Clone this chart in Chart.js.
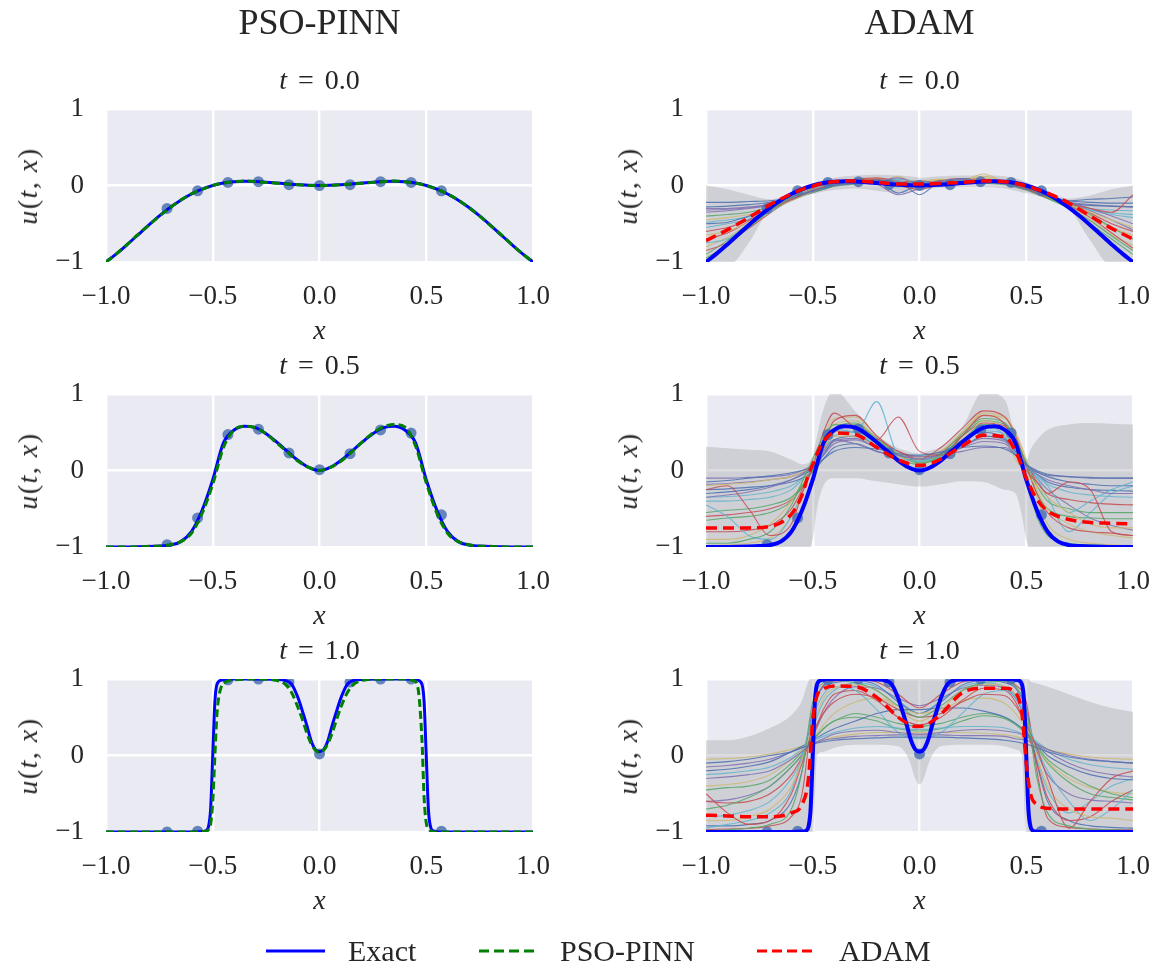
<!DOCTYPE html>
<html>
<head>
<meta charset="utf-8">
<script src="https://cdn.jsdelivr.net/npm/chart.js@4.4.1/dist/chart.umd.min.js"></script>
<style>
  body { margin: 0; background: #fff; width: 1159px; height: 969px; position: relative; overflow: hidden;
         font-family: "Liberation Serif", serif; color: #262626; }
  canvas { position: absolute; }
  .t { position: absolute; transform: translate(-50%, -50%); white-space: nowrap; line-height: 1; }
  .rot { transform: translate(-50%, -50%) rotate(-90deg); }
  .leg { position: absolute; top: 951px; transform: translateY(-50%); line-height: 1; font-size: 30px; white-space: nowrap; }
  svg.h { position: absolute; }
</style>
</head>
<body>
<script>
// x grids
const X_FINE = [-1,-0.95,-0.9,-0.85,-0.8,-0.75,-0.7,-0.65,-0.6,-0.55,-0.5,-0.45,-0.4,-0.35,-0.3,-0.25,-0.2,-0.15,-0.1,-0.05,0,
  0.05,0.1,0.15,0.2,0.25,0.3,0.35,0.4,0.45,0.5,0.55,0.6,0.65,0.7,0.75,0.8,0.85,0.9,0.95,1];
const X_T1 = [-1,-0.9,-0.8,-0.7,-0.6,-0.55,-0.53,-0.52,-0.51,-0.5,-0.49,-0.48,-0.46,-0.44,-0.4,-0.3,-0.2,-0.16,-0.13,-0.1,-0.08,-0.06,-0.04,-0.02,0,
  0.02,0.04,0.06,0.08,0.1,0.13,0.16,0.2,0.3,0.4,0.44,0.46,0.48,0.49,0.5,0.51,0.52,0.53,0.55,0.6,0.7,0.8,0.9,1];
const X_MEAN = [-1,-0.9,-0.8,-0.7,-0.6,-0.55,-0.52,-0.5,-0.48,-0.45,-0.4,-0.3,-0.2,-0.1,-0.05,-0.02,0,
  0.02,0.05,0.1,0.2,0.3,0.4,0.45,0.48,0.5,0.52,0.55,0.6,0.7,0.8,0.9,1];
const X_RUNS = [-1,-0.9,-0.8,-0.7,-0.6,-0.55,-0.5,-0.45,-0.4,-0.3,-0.2,-0.1,0,0.1,0.2,0.3,0.4,0.45,0.5,0.55,0.6,0.7,0.8,0.9,1];
const DOT_X = [-0.714,-0.571,-0.429,-0.286,-0.143,0,0.143,0.286,0.429,0.571];

const TIMES = ['0.0', '0.5', '1.0'];

// exact solution
const EXACT_T0 = [-1.000,-0.891,-0.770,-0.644,-0.518,-0.398,-0.288,-0.192,-0.111,-0.047,0.000,
  0.032,0.049,0.056,0.053,0.044,0.032,0.020,0.010,0.002,0.000,0.002,0.010,0.020,0.032,0.044,0.053,0.056,0.049,0.032,
  0.000,-0.047,-0.111,-0.192,-0.288,-0.398,-0.518,-0.644,-0.770,-0.891,-1.000];
const EXACT_T05 = [-1.000,-1.000,-0.999,-0.998,-0.995,-0.988,-0.975,-0.930,-0.800,-0.520,-0.120,
  0.360,0.530,0.580,0.560,0.480,0.370,0.250,0.130,0.040,0.000,0.040,0.130,0.250,0.370,0.480,0.560,0.580,0.530,0.360,
  -0.120,-0.520,-0.800,-0.930,-0.975,-0.988,-0.995,-0.998,-0.999,-1.000,-1.000];
const EXACT_T1 = [-1,-1,-1,-1,-1,-0.995,-0.98,-0.93,-0.7,0.0,0.7,0.93,0.985,0.995,1,1,0.995,0.98,0.93,0.75,0.58,0.4,0.2,0.08,
  0.05,
  0.08,0.2,0.4,0.58,0.75,0.93,0.98,0.995,1,1,0.995,0.985,0.93,0.7,0.0,-0.7,-0.93,-0.98,-0.995,-1,-1,-1,-1,-1];

// PSO-PINN prediction
const PSO_T0 = [-1.00,-0.89,-0.77,-0.64,-0.52,-0.40,-0.29,-0.19,-0.11,-0.05,0.00,
  0.03,0.05,0.06,0.05,0.04,0.03,0.02,0.01,0.00,0.00,0.00,0.01,0.02,0.03,0.04,0.05,0.06,0.05,0.03,
  0.00,-0.05,-0.11,-0.19,-0.29,-0.40,-0.52,-0.64,-0.77,-0.89,-1.00];
const PSO_T05 = [-1.00,-1.00,-1.00,-1.00,-0.99,-0.99,-0.97,-0.93,-0.82,-0.56,-0.18,
  0.30,0.53,0.58,0.56,0.48,0.36,0.24,0.12,0.04,0.00,0.04,0.12,0.24,0.37,0.49,0.57,0.60,0.57,0.32,
  -0.16,-0.56,-0.82,-0.93,-0.97,-0.99,-0.99,-1.00,-1.00,-1.00,-1.00];
const PSO_T1 = [-1,-1,-1,-1,-1,-0.995,-0.99,-0.97,-0.9,-0.6,0.0,0.55,0.9,0.96,0.99,1,0.98,0.93,0.82,0.62,0.47,0.3,0.16,0.07,
  0.04,
  0.07,0.16,0.3,0.47,0.63,0.82,0.93,0.98,1,1,0.98,0.9,0.2,-0.55,-0.88,-0.96,-0.985,-0.995,-1,-1,-1,-1,-1,-1];

// training points
const DOT_T0 = [-0.30,-0.07,0.04,0.05,0.01,0.00,0.01,0.05,0.04,-0.07];
const DOT_T05 = [-0.97,-0.62,0.47,0.54,0.23,0.01,0.22,0.53,0.49,-0.58];
const DOT_T1 = [-1.00,-0.99,0.99,1.00,0.96,0.02,0.96,1.00,1.00,-0.99];

// ADAM ensemble mean and spread band
const MEAN_T0 = [-0.72,-0.58,-0.42,-0.25,-0.11,-0.05,-0.02,-0.01,0.01,0.03,0.05,0.06,0.04,0.02,0.02,0.02,0.02,
  0.02,0.02,0.03,0.04,0.06,0.05,0.03,0.01,-0.01,-0.02,-0.05,-0.10,-0.23,-0.40,-0.56,-0.70];
const MEAN_T05 = [-0.75,-0.75,-0.75,-0.73,-0.57,-0.32,-0.05,0.08,0.22,0.38,0.49,0.47,0.30,0.14,0.09,0.07,0.07,
  0.07,0.09,0.15,0.32,0.46,0.44,0.25,0.05,-0.10,-0.22,-0.38,-0.53,-0.64,-0.68,-0.69,-0.70];
const MEAN_T1 = [-0.78,-0.79,-0.80,-0.80,-0.75,-0.64,-0.30,0.45,0.78,0.87,0.91,0.90,0.76,0.50,0.41,0.38,0.38,
  0.39,0.43,0.54,0.82,0.88,0.88,0.82,0.55,-0.10,-0.50,-0.64,-0.69,-0.70,-0.70,-0.70,-0.70];

const BAND_HI_T0 = [0.00,-0.05,-0.12,-0.18,-0.10,-0.04,-0.01,0.01,0.03,0.06,0.10,0.13,0.14,0.13,0.12,0.11,0.10,
  0.10,0.11,0.12,0.13,0.13,0.12,0.09,0.07,0.05,0.02,-0.02,-0.08,-0.17,-0.13,-0.05,0.00];
const BAND_LO_T0 = [-1.05,-1.05,-0.75,-0.30,-0.18,-0.14,-0.12,-0.11,-0.10,-0.08,-0.06,-0.04,-0.07,-0.10,-0.09,-0.07,-0.06,
  -0.05,-0.04,-0.03,-0.02,-0.02,-0.04,-0.07,-0.09,-0.10,-0.11,-0.13,-0.17,-0.30,-0.72,-1.05,-1.05];
const BAND_HI_T05 = [0.31,0.29,0.27,0.25,0.14,0.08,0.10,0.20,0.45,0.80,1.05,0.77,0.47,0.29,0.25,0.23,0.23,
  0.24,0.26,0.31,0.57,1.03,0.92,0.42,0.18,0.12,0.27,0.40,0.53,0.60,0.62,0.61,0.60];
const BAND_LO_T05 = [-1.05,-1.05,-1.05,-1.05,-1.05,-1.05,-1.05,-0.90,-0.50,-0.20,-0.10,-0.10,-0.14,-0.18,-0.20,-0.21,-0.21,
  -0.21,-0.20,-0.18,-0.14,-0.15,-0.25,-0.30,-0.60,-0.90,-1.05,-1.05,-1.05,-1.05,-1.05,-1.05,-1.05];
const BAND_HI_T1 = [0.20,0.20,0.25,0.36,0.53,0.72,0.97,1.03,1.03,1.03,1.03,1.03,1.03,1.03,1.03,1.03,1.03,
  1.03,1.03,1.03,1.03,1.03,1.03,1.03,1.03,1.03,0.97,0.94,0.90,0.80,0.70,0.62,0.57];
const BAND_LO_T1 = [-1.05,-1.05,-1.05,-1.05,-1.05,-1.05,-1.05,-1.05,0.00,0.05,0.10,0.14,0.14,0.12,-0.05,-0.30,-0.38,
  -0.30,-0.05,0.12,0.14,0.14,0.12,0.08,0.00,-1.05,-1.05,-1.05,-1.05,-1.05,-1.05,-1.05,-1.05];

// individual ADAM runs (on X_RUNS)
const RUNS_T0 = [
  [-0.28,-0.27,-0.25,-0.22,-0.15,-0.11,-0.07,-0.03,0.01,0.05,0.07,0.04,0.03,0.04,0.06,0.06,0.04,0.01,-0.03,-0.08,-0.13,-0.20,-0.18,-0.17,-0.15],
  [-0.95,-0.78,-0.55,-0.33,-0.15,-0.08,-0.02,0.02,0.05,0.07,0.04,0.02,0.01,0.03,0.05,0.06,0.05,0.02,-0.02,-0.08,-0.15,-0.30,-0.50,-0.70,-0.90],
  [-0.60,-0.55,-0.45,-0.32,-0.18,-0.12,-0.06,-0.02,0.02,0.06,0.08,0.00,-0.05,0.02,0.05,0.07,0.04,0.00,-0.04,-0.10,-0.16,-0.24,-0.30,-0.35,-0.12],
  [-0.35,-0.33,-0.30,-0.26,-0.18,-0.12,-0.08,-0.03,0.00,0.03,0.05,0.10,0.02,0.06,0.08,0.05,0.03,0.00,-0.04,-0.09,-0.14,-0.22,-0.30,-0.40,-0.50],
  [-0.45,-0.42,-0.38,-0.30,-0.20,-0.14,-0.08,-0.03,0.02,0.04,0.03,0.12,0.00,0.08,0.04,0.10,0.03,0.01,-0.03,-0.10,-0.16,-0.25,-0.35,-0.45,-0.55],
  [-0.75,-0.70,-0.52,-0.35,-0.17,-0.10,-0.05,0.00,0.04,0.07,0.05,-0.02,0.03,0.04,0.06,0.07,0.05,0.02,-0.02,-0.08,-0.14,-0.24,-0.32,-0.38,-0.42],
  [-0.50,-0.48,-0.40,-0.30,-0.19,-0.13,-0.08,-0.04,0.00,0.03,0.06,-0.10,0.02,0.05,0.09,0.05,0.02,-0.01,-0.05,-0.10,-0.16,-0.23,-0.26,-0.27,-0.28],
  [-0.40,-0.38,-0.35,-0.28,-0.19,-0.13,-0.09,-0.05,-0.01,0.02,0.07,0.03,0.05,0.02,0.04,0.03,0.01,-0.02,-0.06,-0.11,-0.17,-0.25,-0.38,-0.55,-0.70],
  [-0.85,-0.75,-0.56,-0.36,-0.17,-0.10,-0.04,0.01,0.04,0.06,0.05,0.02,0.02,0.06,0.04,0.05,0.04,0.01,-0.03,-0.09,-0.15,-0.26,-0.42,-0.62,-0.82],
  [-0.30,-0.30,-0.28,-0.25,-0.18,-0.13,-0.09,-0.05,-0.01,0.03,0.05,0.02,0.06,0.03,0.05,0.04,0.02,-0.02,-0.06,-0.11,-0.16,-0.22,-0.25,-0.27,-0.28],
  [-0.65,-0.60,-0.48,-0.34,-0.19,-0.12,-0.06,-0.02,0.03,0.05,0.06,0.02,0.00,0.05,0.06,0.12,0.05,0.02,-0.02,-0.07,-0.14,-0.24,-0.40,-0.55,-0.65],
  [-0.55,-0.50,-0.44,-0.33,-0.20,-0.14,-0.09,-0.04,0.00,0.04,0.04,0.06,-0.03,0.04,0.07,0.06,0.03,0.00,-0.04,-0.09,-0.15,-0.23,-0.30,-0.32,-0.33],
  [-0.22,-0.22,-0.21,-0.20,-0.16,-0.12,-0.08,-0.04,0.00,0.03,0.04,0.05,-0.12,0.05,0.06,0.05,0.03,0.00,-0.04,-0.09,-0.14,-0.20,-0.22,-0.23,-0.23],
  [-0.90,-0.72,-0.50,-0.30,-0.16,-0.10,-0.05,0.00,0.04,0.06,0.04,0.03,0.03,0.06,0.06,0.04,0.03,0.00,-0.04,-0.10,-0.17,-0.30,-0.46,-0.66,-0.85],
  [-0.70,-0.62,-0.47,-0.32,-0.18,-0.11,-0.06,-0.01,0.03,0.08,0.10,0.06,0.04,0.07,0.09,0.08,0.05,0.02,-0.02,-0.07,-0.13,-0.22,-0.36,-0.50,-0.60],
  [-0.32,-0.31,-0.29,-0.25,-0.17,-0.12,-0.07,-0.02,0.02,0.06,0.02,-0.12,-0.04,0.03,0.05,0.06,0.04,0.01,-0.03,-0.08,-0.14,-0.23,-0.33,-0.45,-0.58],
  [-0.80,-0.68,-0.50,-0.33,-0.17,-0.10,-0.05,0.00,0.05,0.08,0.09,0.05,0.06,0.08,0.07,0.15,0.04,0.01,-0.03,-0.09,-0.16,-0.28,-0.45,-0.65,-0.78],
  [-0.48,-0.45,-0.41,-0.31,-0.19,-0.13,-0.08,-0.03,0.01,0.04,0.06,0.08,0.05,0.02,0.04,0.05,0.03,0.00,-0.04,-0.09,-0.15,-0.24,-0.32,-0.36,-0.38]
];
const RUNS_T05 = [
  [-0.15,-0.13,-0.10,-0.07,-0.03,0.00,0.05,0.15,0.25,0.30,0.28,0.22,0.20,0.24,0.30,0.32,0.28,0.20,0.08,0.00,-0.05,-0.08,-0.10,-0.10,-0.10],
  [-0.95,-0.95,-0.90,-0.80,-0.45,-0.15,0.15,0.45,0.60,0.55,0.35,0.15,0.08,0.20,0.40,0.60,0.55,0.35,-0.10,-0.60,-0.85,-0.95,-0.97,-0.98,-0.98],
  [-0.25,-0.20,-0.50,-0.85,-0.70,-0.30,0.05,0.50,0.75,0.55,0.40,0.70,0.25,0.20,0.45,0.72,0.60,0.30,0.00,-0.15,-0.30,-0.15,-0.25,-0.80,-0.85],
  [-0.35,-0.32,-0.28,-0.22,-0.12,-0.05,0.05,0.20,0.35,0.40,0.30,0.20,0.15,0.20,0.30,0.38,0.35,0.20,0.05,-0.05,-0.12,-0.20,-0.25,-0.30,-0.30],
  [-0.20,-0.18,-0.16,-0.12,-0.08,-0.02,0.08,0.30,0.45,0.45,0.30,0.18,0.15,0.20,0.35,0.65,0.50,0.15,-0.05,-0.20,-0.35,-0.55,-0.70,-0.75,-0.75],
  [-0.45,-0.60,-0.85,-0.90,-0.60,-0.30,0.05,0.40,0.55,0.50,0.90,0.20,0.12,0.18,0.38,0.60,0.45,0.22,0.05,-0.05,-0.20,-0.55,-0.40,-0.25,-0.15],
  [-0.30,-0.28,-0.25,-0.20,-0.12,-0.06,0.02,0.20,0.40,0.45,0.32,0.20,0.15,0.22,0.40,0.50,0.42,0.25,0.08,-0.02,-0.08,-0.15,-0.18,-0.20,-0.20],
  [-0.55,-0.52,-0.50,-0.45,-0.35,-0.20,0.00,0.30,0.50,0.60,0.40,0.20,0.10,0.18,0.45,0.65,0.60,0.40,0.10,-0.20,-0.40,-0.50,-0.55,-0.55,-0.55],
  [-0.80,-0.80,-0.78,-0.72,-0.50,-0.25,0.05,0.35,0.65,0.72,0.45,0.25,0.15,0.30,0.55,0.78,0.70,0.45,0.05,-0.30,-0.55,-0.75,-0.80,-0.82,-0.85],
  [-0.10,-0.10,-0.09,-0.08,-0.05,0.00,0.08,0.25,0.40,0.35,0.25,0.20,0.18,0.20,0.25,0.30,0.30,0.20,0.06,-0.02,-0.06,-0.08,-0.09,-0.10,-0.10],
  [-0.90,-0.90,-0.85,-0.70,-0.40,-0.15,0.10,0.40,0.60,0.65,0.40,0.22,0.18,0.25,0.50,0.75,0.70,0.50,0.15,-0.25,-0.50,-0.70,-0.80,-0.85,-0.88],
  [-0.40,-0.40,-0.38,-0.35,-0.25,-0.12,0.02,0.25,0.45,0.50,0.35,0.18,0.12,0.20,0.35,0.55,0.55,0.35,0.10,-0.10,-0.35,-0.80,-0.55,-0.30,-0.20],
  [-0.25,-0.24,-0.22,-0.20,-0.15,-0.10,-0.02,0.15,0.30,0.35,0.25,0.18,0.14,0.20,0.30,0.45,0.40,0.25,0.08,-0.05,-0.15,-0.22,-0.25,-0.26,-0.27],
  [-0.65,-0.62,-0.60,-0.55,-0.40,-0.20,0.02,0.35,0.55,0.62,0.42,0.22,0.12,0.22,0.48,0.68,0.62,0.42,0.08,-0.30,-0.50,-0.60,-0.62,-0.63,-0.63],
  [-0.60,-0.58,-0.55,-0.50,-0.38,-0.22,0.00,0.28,0.50,0.58,0.42,0.25,0.18,0.25,0.45,0.62,0.58,0.40,0.10,-0.15,-0.30,-0.38,-0.42,-0.44,-0.45],
  [-0.18,-0.17,-0.15,-0.12,-0.08,-0.03,0.05,0.22,0.38,0.42,0.30,0.22,0.18,0.22,0.32,0.42,0.38,0.22,0.05,-0.10,-0.25,-0.45,-0.62,-0.72,-0.78],
  [-0.98,-0.97,-0.95,-0.88,-0.60,-0.25,0.10,0.45,0.68,0.70,0.45,0.20,0.10,0.22,0.50,0.72,0.68,0.48,0.10,-0.35,-0.70,-0.90,-0.95,-0.97,-0.98],
  [-0.35,-0.34,-0.32,-0.28,-0.20,-0.10,0.05,0.30,0.52,0.50,0.32,0.22,0.20,0.24,0.36,0.52,0.48,0.30,0.06,-0.08,-0.18,-0.28,-0.32,-0.34,-0.35]
];
const RUNS_T1 = [
  [-0.10,-0.08,-0.05,0.00,0.05,0.10,0.15,0.18,0.20,0.22,0.23,0.24,0.24,0.24,0.23,0.22,0.20,0.18,0.15,0.10,0.05,-0.02,-0.06,-0.08,-0.10],
  [-0.98,-0.97,-0.95,-0.90,-0.70,-0.20,0.70,0.95,0.98,0.95,0.85,0.65,0.50,0.65,0.85,0.95,0.97,0.90,0.60,-0.30,-0.75,-0.92,-0.96,-0.97,-0.98],
  [-0.50,-0.75,-0.90,-0.85,-0.50,-0.10,0.30,0.55,0.70,0.80,0.75,0.60,0.50,0.55,0.70,0.80,0.78,0.65,0.40,0.10,-0.30,-0.95,-0.60,-0.30,-0.20],
  [-0.30,-0.28,-0.25,-0.20,-0.05,0.05,0.15,0.22,0.28,0.32,0.33,0.30,0.28,0.30,0.33,0.34,0.32,0.30,0.25,0.15,0.05,-0.10,-0.20,-0.25,-0.28],
  [-0.85,-0.85,-0.80,-0.70,-0.40,-0.05,0.40,0.75,0.88,0.92,0.85,0.60,0.45,0.60,0.85,0.93,0.90,0.80,0.50,0.00,-0.40,-0.70,-0.80,-0.82,-0.85],
  [-0.95,-0.90,-0.85,-0.75,-0.45,0.00,0.50,0.80,0.90,0.85,0.60,0.30,0.22,0.30,0.55,0.80,0.85,0.75,0.50,0.10,-0.20,-0.60,-0.85,-0.70,-0.45],
  [-0.20,-0.18,-0.14,-0.08,0.05,0.12,0.20,0.28,0.35,0.45,0.55,0.60,0.60,0.62,0.62,0.58,0.50,0.42,0.30,0.15,0.00,-0.15,-0.25,-0.30,-0.32],
  [-0.70,-0.65,-0.55,-0.40,-0.15,0.00,0.20,0.35,0.45,0.55,0.50,0.42,0.38,0.42,0.50,0.55,0.50,0.42,0.30,0.12,-0.05,-0.25,-0.40,-0.50,-0.55],
  [-0.60,-0.62,-0.60,-0.50,-0.25,-0.02,0.25,0.60,0.80,0.85,0.72,0.50,0.40,0.50,0.72,0.88,0.85,0.70,0.35,-0.10,-0.55,-0.85,-0.80,-0.60,-0.45],
  [-0.15,-0.13,-0.10,-0.05,0.05,0.10,0.15,0.20,0.22,0.25,0.26,0.27,0.27,0.27,0.26,0.26,0.25,0.22,0.20,0.15,0.08,0.00,-0.05,-0.08,-0.10],
  [-0.40,-0.38,-0.34,-0.25,-0.05,0.08,0.22,0.40,0.55,0.70,0.75,0.65,0.55,0.60,0.72,0.75,0.68,0.55,0.35,0.12,-0.08,-0.30,-0.42,-0.48,-0.50],
  [-0.25,-0.23,-0.20,-0.15,-0.02,0.08,0.18,0.25,0.30,0.36,0.38,0.36,0.34,0.36,0.38,0.38,0.36,0.32,0.26,0.18,0.08,-0.05,-0.12,-0.16,-0.18],
  [-0.92,-0.92,-0.90,-0.85,-0.60,-0.20,0.60,0.90,0.95,0.98,0.92,0.70,0.55,0.70,0.92,0.98,0.95,0.88,0.60,-0.10,-0.60,-0.85,-0.92,-0.94,-0.95],
  [-0.45,-0.42,-0.40,-0.32,-0.10,0.05,0.20,0.35,0.45,0.50,0.45,0.35,0.32,0.35,0.45,0.52,0.48,0.40,0.28,0.10,-0.10,-0.35,-0.50,-0.55,-0.58],
  [-0.97,-0.96,-0.95,-0.92,-0.80,-0.50,0.55,0.92,0.97,0.99,0.96,0.80,0.62,0.80,0.96,0.99,0.97,0.92,0.70,-0.20,-0.82,-0.94,-0.96,-0.97,-0.97],
  [-0.60,-0.58,-0.52,-0.40,-0.15,0.02,0.25,0.55,0.75,0.90,0.88,0.75,0.65,0.75,0.88,0.92,0.88,0.75,0.45,0.05,-0.25,-0.50,-0.58,-0.60,-0.62],
  [-0.05,-0.04,-0.02,0.02,0.08,0.12,0.16,0.20,0.24,0.28,0.30,0.30,0.30,0.30,0.30,0.29,0.27,0.25,0.20,0.14,0.08,0.02,-0.02,-0.04,-0.05],
  [-0.80,-0.78,-0.72,-0.60,-0.30,-0.05,0.35,0.70,0.85,0.95,0.90,0.72,0.55,0.72,0.90,0.95,0.90,0.78,0.45,-0.05,-0.45,-0.75,-0.60,-0.40,-0.30]
];

const ROWS = [
  { x: X_FINE, exact: EXACT_T0, pso: PSO_T0, dots: DOT_T0, mean: MEAN_T0, hi: BAND_HI_T0, lo: BAND_LO_T0, runs: RUNS_T0 },
  { x: X_FINE, exact: EXACT_T05, pso: PSO_T05, dots: DOT_T05, mean: MEAN_T05, hi: BAND_HI_T05, lo: BAND_LO_T05, runs: RUNS_T05 },
  { x: X_T1, exact: EXACT_T1, pso: PSO_T1, dots: DOT_T1, mean: MEAN_T1, hi: BAND_HI_T1, lo: BAND_LO_T1, runs: RUNS_T1 }
];

// layout
const COL_LEFT = [106, 706];
const ROW_TOP = [109, 394, 679];
const PLOT_W = 427, PLOT_H = 153;
const PAD_L = 80, PAD_R = 26, PAD_T = 22, PAD_B = 56;
const FONT = '"Liberation Serif", serif';
const INK = '#262626';
const PAL = ['#4C72B0', '#55A868', '#C44E52', '#8172B2', '#CCB974', '#64B5CD'];

const pts = (xs, ys) => xs.map((x, i) => ({ x: x, y: ys[i] }));
const fmt = d => v => (v < 0 ? '\u2212' : '') + Math.abs(v).toFixed(d);

const bgPlugin = {
  id: 'bg',
  beforeDraw(chart) {
    const a = chart.chartArea, ctx = chart.ctx;
    ctx.save();
    ctx.fillStyle = '#EAEAF2';
    ctx.fillRect(a.left, a.top, a.right - a.left, a.bottom - a.top);
    ctx.restore();
  }
};

function line(xs, ys, color, width, dash, order) {
  return {
    data: pts(xs, ys), borderColor: color, borderWidth: width, borderDash: dash,
    pointRadius: 0, cubicInterpolationMode: 'monotone', fill: false, order: order
  };
}

function dots(ys) {
  return {
    data: pts(DOT_X, ys), showLine: false, pointRadius: 5.5, pointBorderWidth: 0,
    pointBackgroundColor: 'rgba(76,114,176,0.85)', order: 2
  };
}

function axis(step, digits, pad, fit) {
  return {
    type: 'linear', min: -1, max: 1,
    afterFit: fit,
    grid: { color: '#FFFFFF', lineWidth: 2.5, drawTicks: false },
    border: { display: false },
    ticks: { stepSize: step, padding: pad, color: INK, font: { family: FONT, size: 27 },
             callback: fmt(digits), maxRotation: 0, autoSkip: false }
  };
}

function panel(col, row, datasets) {
  const cv = document.createElement('canvas');
  cv.width = PAD_L + PLOT_W + PAD_R;
  cv.height = PAD_T + PLOT_H + PAD_B;
  cv.style.left = (COL_LEFT[col] - PAD_L) + 'px';
  cv.style.top = (ROW_TOP[row] - PAD_T) + 'px';
  document.body.appendChild(cv);
  new Chart(cv, {
    type: 'line',
    data: { datasets: datasets },
    plugins: [bgPlugin],
    options: {
      responsive: false, animation: false, events: [],
      layout: { padding: { left: 0, right: PAD_R, top: PAD_T, bottom: 0 } },
      plugins: { legend: { display: false }, tooltip: { enabled: false } },
      scales: {
        // fixed axis sizes, and no extra room for the end labels
        x: axis(0.5, 1, 19, s => { s.height = PAD_B; s.paddingLeft = 0; s.paddingRight = 0; }),
        y: axis(1, 0, 22, s => { s.width = PAD_L; s.paddingTop = 0; s.paddingBottom = 0; })
      }
    }
  });
}

function text(html, cx, cy, size, cls, extra) {
  const d = document.createElement('div');
  d.className = 't' + (cls ? ' ' + cls : '');
  d.innerHTML = html;
  d.style.left = cx + 'px';
  d.style.top = cy + 'px';
  d.style.fontSize = size + 'px';
  if (extra) Object.assign(d.style, extra);
  document.body.appendChild(d);
}

ROWS.forEach((r, row) => {
  // PSO-PINN column
  panel(0, row, [
    line(r.x, r.pso, '#008000', 3, [8, 4], 0),
    line(r.x, r.exact, '#0000FF', 3, [], 1),
    dots(r.dots)
  ]);

  // ADAM column
  const runs = r.runs.map((ys, i) => ({
    data: pts(X_RUNS, ys), borderColor: PAL[i % PAL.length] + 'E0', borderWidth: 1.1,
    pointRadius: 0, cubicInterpolationMode: 'monotone', fill: false, order: 3
  }));
  panel(1, row, [
    line(X_MEAN, r.mean, '#FF0000', 3.5, [11, 6], 0),
    line(r.x, r.exact, '#0000FF', 4, [], 1),
    dots(r.dots),
    ...runs,
    { data: pts(X_MEAN, r.hi), borderWidth: 0, pointRadius: 0, cubicInterpolationMode: 'monotone',
      fill: '+1', backgroundColor: 'rgba(150,150,155,0.32)', order: 4, clip: { left: 0, right: 0, top: 5, bottom: 5 } },
    { data: pts(X_MEAN, r.lo), borderWidth: 0, pointRadius: 0, cubicInterpolationMode: 'monotone',
      fill: false, order: 5, clip: { left: 0, right: 0, top: 5, bottom: 5 } }
  ]);

  [0, 1].forEach(col => {
    const cx = COL_LEFT[col] + PLOT_W / 2;
    const top = ROW_TOP[row];
    text('<i>t</i> = ' + TIMES[row], cx, top - 29, 28, '', { wordSpacing: '4px' });
    text('<i>x</i>', cx, top + PLOT_H + 68, 28);
    text('<i>u</i>(<i>t</i>, <i>x</i>)', COL_LEFT[col] - 78, top + PLOT_H / 2, 28, 'rot', { letterSpacing: '1.5px' });
  });
});

text('PSO-PINN', COL_LEFT[0] + PLOT_W / 2, 22, 36);
text('ADAM', COL_LEFT[1] + PLOT_W / 2, 22, 36);

// legend
function handle(x1, x2, color, dash) {
  const s = document.createElementNS('http://www.w3.org/2000/svg', 'svg');
  s.setAttribute('class', 'h');
  s.setAttribute('width', x2 - x1);
  s.setAttribute('height', 8);
  s.style.left = x1 + 'px';
  s.style.top = '947px';
  const l = document.createElementNS('http://www.w3.org/2000/svg', 'line');
  l.setAttribute('x1', 0); l.setAttribute('x2', x2 - x1);
  l.setAttribute('y1', 4); l.setAttribute('y2', 4);
  l.setAttribute('stroke', color); l.setAttribute('stroke-width', 3);
  if (dash) l.setAttribute('stroke-dasharray', dash);
  s.appendChild(l);
  document.body.appendChild(s);
}
function legendText(label, x) {
  const d = document.createElement('div');
  d.className = 'leg';
  d.style.left = x + 'px';
  d.textContent = label;
  document.body.appendChild(d);
}
handle(266, 325, '#0000FF', null);
legendText('Exact', 348);
handle(479, 537, '#008000', '10 5');
legendText('PSO-PINN', 560);
handle(757, 815, '#FF0000', '10 5');
legendText('ADAM', 839);
</script>
</body>
</html>
